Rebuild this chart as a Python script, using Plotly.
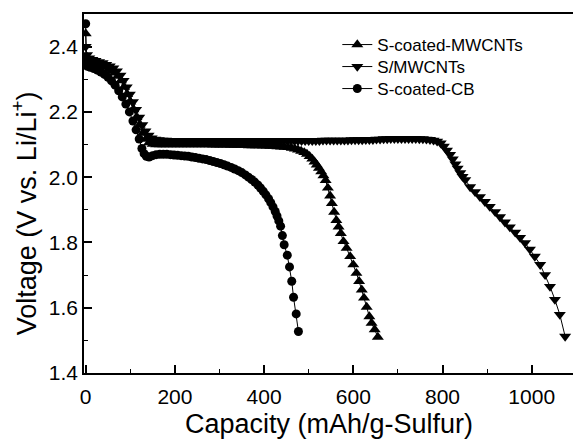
import plotly.graph_objects as go

# ---------------- data ----------------
# S-coated-MWCNTs (up triangles)
scm_x = [0, 2, 6, 12, 20, 28, 36, 44, 52, 58, 65, 72, 79, 86, 93, 100, 107, 114, 121, 128, 135, 142, 150,
         158, 166, 174, 182, 190, 198, 206, 214, 222, 230, 238, 246, 254, 262, 270,
         278, 286, 294, 302, 310, 318, 326, 334, 342, 350, 358, 366, 374, 382, 390,
         398, 406, 414, 422, 430, 438, 446, 454, 462,
         469, 476, 483, 490, 496, 502, 508, 513, 518, 523, 528, 533, 538, 543, 548, 552, 557, 562, 567, 572,
         578, 585, 593, 600, 607, 613, 619, 624, 630, 636, 641, 648, 655]
scm_v = [2.44, 2.37, 2.358, 2.353, 2.349, 2.345, 2.341, 2.337, 2.332, 2.326, 2.32, 2.31, 2.296, 2.276, 2.254,
         2.231, 2.207, 2.183, 2.16, 2.135, 2.117, 2.106, 2.101,
         2.100, 2.100, 2.100, 2.100, 2.100, 2.100, 2.100, 2.100, 2.100, 2.100, 2.100, 2.100, 2.100, 2.100, 2.100,
         2.100, 2.099, 2.099, 2.099, 2.099, 2.099, 2.098, 2.098, 2.098, 2.098, 2.098, 2.097, 2.097, 2.097, 2.097,
         2.096, 2.096, 2.095, 2.095, 2.094, 2.093, 2.092, 2.091, 2.089,
         2.087, 2.084, 2.080, 2.076, 2.071, 2.064, 2.056, 2.047, 2.038, 2.028, 2.017, 2.005, 1.990, 1.967, 1.943,
         1.920, 1.893, 1.868, 1.848, 1.828,
         1.803, 1.783, 1.757, 1.732, 1.706, 1.681, 1.655, 1.630, 1.602, 1.573, 1.553, 1.533, 1.510]

# S/MWCNTs (down triangles)
smw_x = [0, 3, 8, 15, 22, 30, 38, 46, 54, 62, 70, 78, 85, 92, 99, 106, 113, 120, 127, 134, 141, 148, 156, 164,
         172, 180, 188, 196, 204, 212, 220, 228, 236, 244, 252, 260, 268, 276, 284, 292, 300,
         308, 316, 324, 332, 340, 348, 356, 364, 372, 380, 388, 396, 404, 412, 420, 428, 436, 444, 452, 460,
         468, 476, 484, 492, 500,
         508, 516, 524, 532, 540, 548, 556, 564, 572, 580, 588, 596, 604,
         612, 620, 628, 636, 644, 652, 660, 668, 676, 684, 692, 700,
         708, 716, 724, 732, 740, 748, 756, 764, 772, 780,
         788, 796, 803, 810, 817, 823, 829, 834, 840, 845, 851, 862, 873, 884, 895, 906, 918, 929, 940, 951,
         963, 974, 985, 996, 1007, 1019, 1030, 1041, 1052, 1063, 1075]
smw_v = [2.40, 2.375, 2.365, 2.36, 2.357, 2.353, 2.35, 2.345, 2.34, 2.334, 2.325, 2.312, 2.296, 2.276, 2.254,
         2.231, 2.207, 2.183, 2.160, 2.141, 2.128, 2.120, 2.116, 2.114,
         2.113, 2.113, 2.112, 2.112, 2.112, 2.112, 2.112, 2.112, 2.112, 2.112, 2.112, 2.112, 2.112, 2.112, 2.112,
         2.112, 2.112,
         2.112, 2.112, 2.112, 2.112, 2.112, 2.112, 2.112, 2.112, 2.112, 2.112, 2.112, 2.112, 2.112, 2.112, 2.112,
         2.112, 2.112, 2.112, 2.112, 2.112, 2.112, 2.112, 2.112, 2.112, 2.112,
         2.112, 2.112, 2.112, 2.113, 2.113, 2.113, 2.113, 2.113, 2.113, 2.113, 2.113, 2.114, 2.114,
         2.114, 2.114, 2.115, 2.115, 2.115, 2.116, 2.116, 2.117, 2.117, 2.118, 2.118, 2.118,
         2.118, 2.118, 2.118, 2.118, 2.118, 2.117, 2.117, 2.116, 2.115, 2.113,
         2.110, 2.104, 2.094, 2.082, 2.069, 2.055, 2.040, 2.027, 2.013, 2.002, 1.992, 1.970, 1.955, 1.940, 1.925,
         1.910, 1.894, 1.878, 1.862, 1.847,
         1.831, 1.815, 1.799, 1.779, 1.757, 1.732, 1.701, 1.665, 1.625, 1.579, 1.512]

# S-coated-CB (circles)
cb_x = [0, 1, 4, 10, 18, 26, 34, 42, 50, 58, 66, 74, 82, 90, 98, 106, 113, 120, 126, 131,
        136, 142, 150, 158, 166, 174, 182, 190, 198, 206, 214, 222, 230, 238, 246, 254, 262, 270, 278, 286,
        294, 302, 310, 318, 326, 334, 342, 350, 358, 365, 372, 379, 386, 392, 398, 404, 410, 415, 420, 425,
        429, 433, 437, 441, 445, 452, 457, 462, 466, 472, 477]
cb_v = [2.47, 2.35, 2.34, 2.337, 2.333, 2.328, 2.322, 2.315, 2.306, 2.295, 2.282, 2.265, 2.246, 2.224, 2.200,
        2.172, 2.145, 2.117, 2.088, 2.072,
        2.064, 2.062, 2.066, 2.069, 2.070, 2.070, 2.070, 2.069, 2.068, 2.067, 2.066, 2.065, 2.064, 2.062, 2.060,
        2.058, 2.056, 2.054, 2.051, 2.048,
        2.045, 2.042, 2.038, 2.034, 2.030, 2.025, 2.020, 2.014, 2.007, 2.000, 1.993, 1.985, 1.976, 1.967, 1.957,
        1.946, 1.934, 1.922, 1.909, 1.895,
        1.881, 1.866, 1.850, 1.821, 1.793, 1.761, 1.725, 1.681, 1.632, 1.581, 1.527]

x_ticks = [0, 200, 400, 600, 800, 1000]
x_labels = ["0", "200", "400", "600", "800", "1000"]
y_ticks = [1.4, 1.6, 1.8, 2.0, 2.2, 2.4]
y_labels = ["1.4", "1.6", "1.8", "2.0", "2.2", "2.4"]

series = [
    ("S-coated-MWCNTs", scm_x, scm_v, "triangle-up", 10.5, "legend"),
    ("S/MWCNTs", smw_x, smw_v, "triangle-down", 10.5, "legend2"),
    ("S-coated-CB", cb_x, cb_v, "circle", 9, "legend3"),
]

FONT = "Liberation Sans, Arial, sans-serif"

fig = go.Figure()
for name, xs, vs, sym, size, lg in series:
    fig.add_trace(go.Scatter(
        x=xs, y=vs, name=name, mode="lines+markers", legend=lg,
        line=dict(color="black", width=1),
        marker=dict(symbol=sym, size=size, color="black", line=dict(width=0)),
    ))

# plot area: x 84..573 px, y 14..373 px (height 359)
def leg(row_px):
    return dict(x=0.518, y=(373 - row_px) / 359, xanchor="left", yanchor="middle",
                font=dict(size=17, family=FONT, color="black"),
                bgcolor="rgba(0,0,0,0)", borderwidth=0)

fig.update_layout(
    width=573, height=439,
    margin=dict(l=84, r=0, t=14, b=66),
    plot_bgcolor="white", paper_bgcolor="white",
    font=dict(family=FONT, color="black"),
    showlegend=True,
    legend=leg(45), legend2=leg(67), legend3=leg(89),
)
fig.update_xaxes(
    range=[-3.8, 1092.6], showline=True, linecolor="black", linewidth=1.5, mirror=True,
    ticks="inside", ticklen=8, tickwidth=1.5, tickcolor="black",
    tickvals=x_ticks, ticktext=x_labels, tickfont=dict(size=21, family=FONT, color="black"),
    ticklabelstandoff=4,
    minor=dict(ticks="inside", ticklen=4, tickwidth=1.2, tickcolor="black", dtick=100, tick0=0),
    showgrid=False, zeroline=False,
)
fig.update_yaxes(
    range=[1.4, 2.5], showline=True, linecolor="black", linewidth=1.5, mirror=False,
    ticks="inside", ticklen=8, tickwidth=1.5, tickcolor="black",
    tickvals=y_ticks, ticktext=y_labels, tickfont=dict(size=21, family=FONT, color="black"),
    minor=dict(ticks="inside", ticklen=4, tickwidth=1.2, tickcolor="black", dtick=0.1, tick0=1.4),
    showgrid=False, zeroline=False,
)
fig.add_annotation(text="Capacity (mAh/g-Sulfur)", xref="paper", yref="paper",
                   x=0.5, y=-0.142, xanchor="center", yanchor="middle", showarrow=False,
                   font=dict(size=27, family=FONT, color="black"))
fig.add_annotation(text="Voltage (V vs. Li/Li<sup>+</sup>)", xref="paper", yref="paper",
                   x=-0.122, y=0.446, xanchor="center", yanchor="middle", showarrow=False,
                   textangle=-90, font=dict(size=27, family=FONT, color="black"))

fig.write_html("out.html")
